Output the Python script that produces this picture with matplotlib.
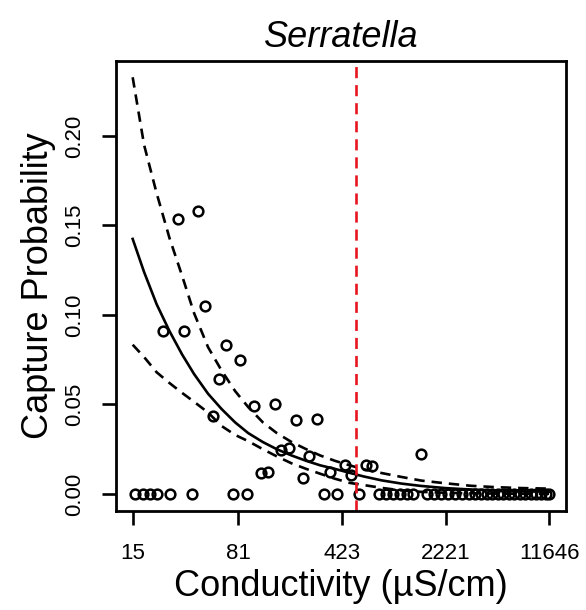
import numpy as np
import matplotlib
matplotlib.use("Agg")
import matplotlib.pyplot as plt

plt.rcParams['font.family'] = ['Liberation Sans', 'DejaVu Sans']
plt.rcParams['lines.scale_dashes'] = False

#site observations (conductivity uS/cm, capture probability)
zero_cond = [15.5, 17.6, 19.7, 22.0, 27.4, 38.4, 74.8, 93.0, 316, 393, 556,
             766, 857, 958, 1072, 1199, 1319, 1650, 1846, 2065, 2311, 2585,
             2892, 3235, 3560, 3919, 4313, 4673, 5143, 5571, 6132, 6642,
             7311, 7920, 8718, 9444, 10230, 11082, 11646]
pos_cond = [24.5, 34.3, 30.7, 42.9, 47.8, 66.5, 83.7, 59.8, 103.5, 144.9,
            53.7, 202.8, 282.5, 161.4, 181.3, 250.9, 116.4, 130.2, 227,
            351.5, 444.4, 489.6, 619.6, 688.8, 1493]
pos_prob = [0.0911, 0.0911, 0.1538, 0.1579, 0.1052, 0.0834, 0.0749, 0.0644,
            0.0490, 0.0504, 0.0434, 0.0413, 0.0420, 0.0244, 0.0259, 0.0212,
            0.0116, 0.0123, 0.0088, 0.0121, 0.0164, 0.0108, 0.0164, 0.0156,
            0.0225]

#fitted curve + bounds
curve_cond = [15, 18, 22, 27, 33, 40, 50, 62, 77, 95, 120, 150, 190, 240,
              300, 380, 480, 600, 800, 1100, 1500, 2200, 3300, 5000, 7500,
              11646]
fit = [0.1425, 0.1240, 0.1060, 0.0910, 0.0780, 0.0670, 0.0560, 0.0475,
       0.0400, 0.0340, 0.0290, 0.0250, 0.0215, 0.0185, 0.0160, 0.0140,
       0.0118, 0.0098, 0.0076, 0.0058, 0.0045, 0.0033, 0.0025, 0.0020,
       0.0016, 0.0013]
upper = [0.2328, 0.1950, 0.1680, 0.1430, 0.1220, 0.1010, 0.0820, 0.0690,
         0.0575, 0.0485, 0.0400, 0.0340, 0.0290, 0.0250, 0.0215, 0.0185,
         0.0160, 0.0138, 0.0117, 0.0095, 0.0075, 0.0060, 0.0046, 0.0038,
         0.0033, 0.0030]
lower = [0.0834, 0.0765, 0.0680, 0.0620, 0.0565, 0.0515, 0.0455, 0.0380,
         0.0330, 0.0295, 0.0250, 0.0210, 0.0171, 0.0140, 0.0113, 0.0085,
         0.0062, 0.0050, 0.0034, 0.0020, 0.0012, 0.0007, 0.0004, 0.0002,
         0.0001, 0.0001]

threshold = 527
xticks = [15, 81, 423, 2221, 11646]
yticks = [0.00, 0.05, 0.10, 0.15, 0.20]

fig = plt.figure(figsize=(5.86, 6.10), dpi=100)
ax = fig.add_axes([0.198, 0.1623, 0.768, 0.7377])

ax.plot(curve_cond, fit, color='black', lw=1.9)
ax.plot(curve_cond, upper, color='black', lw=1.9, dashes=(7.5, 5))
ax.plot(curve_cond, lower, color='black', lw=1.9, dashes=(7.5, 5))
ax.plot(zero_cond, np.zeros(len(zero_cond)), 'o', mfc='none', mec='black',
        ms=7, mew=1.8)
ax.plot(pos_cond, pos_prob, 'o', mfc='none', mec='black', ms=7, mew=1.8)
ax.axvline(threshold, color='#e8141e', lw=1.9, dashes=(8, 5))

ax.set_xscale('log')
ax.set_xlim(11.5, 15190)
ax.set_ylim(-0.0095, 0.2419)
ax.set_xticks(xticks)
ax.set_xticklabels([str(t) for t in xticks])
ax.minorticks_off()
ax.set_yticks(yticks)
ax.set_yticklabels(['%.2f' % t for t in yticks], rotation=90, va='center')

ax.tick_params(axis='both', length=10, width=1.9, labelsize=16, direction='out')
ax.tick_params(axis='x', pad=13)
ax.tick_params(axis='y', pad=12)
for s in ax.spines.values():
    s.set_linewidth(2.0)

ax.set_title('Serratella', fontsize=26, style='italic', pad=10)
ax.set_xlabel('Conductivity (µS/cm)', fontsize=26, labelpad=4)
ax.set_ylabel('Capture Probability', fontsize=26, labelpad=6)

fig.savefig('out.png', dpi=100)
